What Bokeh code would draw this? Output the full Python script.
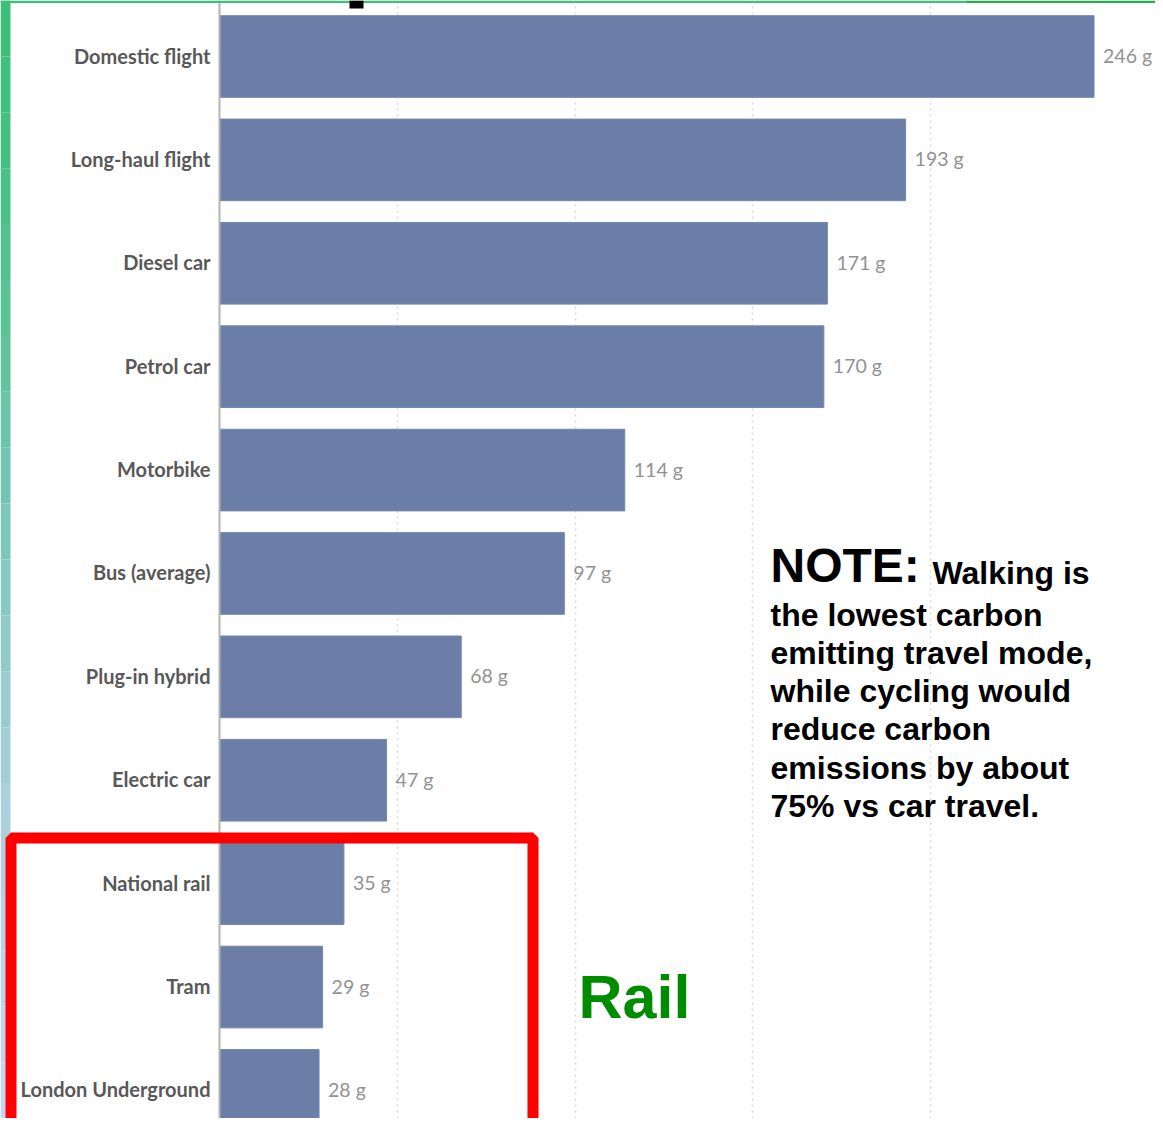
from bokeh.plotting import figure
from bokeh.models import Range1d, ColumnDataSource, Span, Grid, FixedTicker, BoxAnnotation, Label
from bokeh.embed import file_html
from bokeh.resources import INLINE
from bokeh.core.properties import value

# ---- data ----
categories = ["Domestic flight", "Long-haul flight", "Diesel car", "Petrol car", "Motorbike",
              "Bus (average)", "Plug-in hybrid", "Electric car", "National rail", "Tram",
              "London Underground"]
emissions = [246, 193, 171, 170, 114, 97, 68, 47, 35, 29, 28]
value_labels = [f"{v} g" for v in emissions]
grid_ticks = [50, 100, 150, 200]

note_head = "NOTE:"
note_first = "Walking is"
note_lines = ["the lowest carbon", "emitting travel mode,", "while cycling would",
              "reduce carbon", "emissions by about", "75% vs car travel."]
rail_text = "Rail"

# ---- layout constants (pixels in figure) ----
W, H = 1155, 1118
PX_PER_G = 3.555
AXIS_PX = 219
ROW_PX = 103.39
ROW0_PX = 56


def dx(px):
    return (px - AXIS_PX) / PX_PER_G


def dy(py):
    return (py - ROW0_PX) / ROW_PX


p = figure(width=W, height=H, output_backend="svg", toolbar_location=None,
           x_range=Range1d(dx(0), dx(W)), y_range=Range1d(dy(H), dy(0)),
           x_axis_type=None, y_axis_type=None, min_border=0,
           outline_line_color=None, background_fill_color="white",
           border_fill_color="white")

p.add_layout(Grid(dimension=0, ticker=FixedTicker(ticks=grid_ticks),
                  grid_line_color="#d8d8d8", grid_line_dash="dotted", grid_line_width=1.5))

src = ColumnDataSource(dict(y=list(range(len(categories))), cat=categories,
                            value=emissions, label=value_labels))

p.hbar(y="y", left=0, right="value", height=0.79, source=src,
       fill_color="#6a7ea7", line_color="#7587ad", line_width=1)

p.add_layout(Span(location=0, dimension="height", line_color="#b4b4b4", line_width=2))

p.text(x=0, y="y", text="cat", source=src, x_offset=-9, y_offset=-1, text_align="right",
       text_baseline="middle", text_font=value("Lato"), text_font_style="bold",
       text_font_size="20px", text_color="#585858")

p.text(x="value", y="y", text="label", source=src, x_offset=9, y_offset=-1, text_align="left",
       text_baseline="middle", text_font=value("Lato"), text_font_size="19.5px",
       text_color="#929292")

# decorative frame pieces from the source image
strip_cols = ["#3dbf7a", "#40c07e", "#45c083", "#4bc189", "#52c190", "#59c297", "#61c39f",
              "#69c4a8", "#72c5b0", "#7cc7b8", "#86c9c0", "#90cac7", "#9acccd", "#a3ced4",
              "#abcfdb", "#b2d0e1", "#b8d1e7", "#bdd2ec", "#c1d3ef", "#c4d4f1"]
n = len(strip_cols)
for k, c in enumerate(strip_cols):
    p.add_layout(BoxAnnotation(left=dx(0), right=dx(10), top=dy(H * k / n),
                               bottom=dy(H * (k + 1) / n),
                               fill_color=c, fill_alpha=1, line_alpha=0))
p.add_layout(BoxAnnotation(left=dx(0), right=dx(965), top=dy(0), bottom=dy(2.5),
                           fill_color="#3dbf7a", fill_alpha=1, line_alpha=0))
p.add_layout(BoxAnnotation(left=dx(965), right=dx(W), top=dy(0), bottom=dy(2.5),
                           fill_color="#2aa852", fill_alpha=1, line_alpha=0))
p.add_layout(BoxAnnotation(left=dx(349), right=dx(363), top=dy(0), bottom=dy(8),
                           fill_color="#000000", fill_alpha=1, line_alpha=0))

# red highlight box
p.add_layout(BoxAnnotation(left=dx(10.5), right=dx(532.5), top=dy(837.5), bottom=dy(1131),
                           fill_alpha=0, line_color="#ff0000", line_width=11, line_alpha=1))

# note text
p.add_layout(Label(x=dx(770), y=dy(565), text=note_head, text_font="Liberation Sans",
                   text_font_style="bold", text_font_size="48px", text_color="#000000",
                   text_baseline="alphabetic", text_align="left"))
p.add_layout(Label(x=dx(932), y=dy(572), text=note_first, text_font="Liberation Sans",
                   text_font_style="bold", text_font_size="32px", text_color="#000000",
                   text_baseline="alphabetic", text_align="left"))
for k, line in enumerate(note_lines):
    p.add_layout(Label(x=dx(770), y=dy(614 + 38.3 * k), text=line, text_font="Liberation Sans",
                       text_font_style="bold", text_font_size="32px", text_color="#000000",
                       text_baseline="alphabetic", text_align="left"))

p.add_layout(Label(x=dx(578), y=dy(996), text=rail_text, text_font="Liberation Sans",
                   text_font_style="bold", text_font_size="61px", text_color="#008c00",
                   text_baseline="alphabetic", text_align="left"))

open("out.html", "w").write(file_html(p, INLINE))
